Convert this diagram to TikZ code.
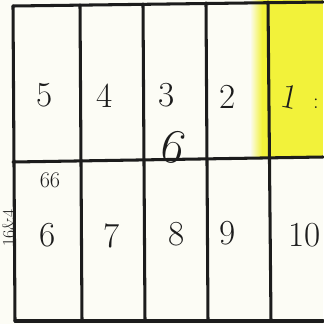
\documentclass[tikz,border=0pt]{standalone}
\usepackage{fontspec}
\usepackage{tikz}
\usetikzlibrary{positioning,calc}
\definecolor{marker}{HTML}{F2F23A}
\definecolor{paper}{HTML}{FCFCF5}
\definecolor{ink}{HTML}{1C1C1C}
\tikzset{
  wall/.style={ink, line width=2.6pt, line cap=round},
  digit/.style={ink, font=\fontsize{30}{30}\selectfont, inner sep=0pt},
  note/.style={ink, font=\fontsize{19}{19}\selectfont, inner sep=0pt}
}

\begin{document}
\begin{tikzpicture}[x=0.03cm, y=-0.03cm]

% ---------- page and highlight
\fill[paper] (0,0) rectangle (323,324);
\useasboundingbox (0,0) rectangle (323,324);
\fill[marker] (262,0) rectangle (323,158);
\shade[left color=paper, right color=marker] (250,0) rectangle (262,158);

% ---------- grid lines
\draw[wall] (13,6) -- (323,2);
\draw[wall] (13,162) -- (323,157);
\draw[wall] (15,321) -- (323,321);
\draw[wall] (13,6) -- (15,321);
\foreach \xa/\xb/\ya in {80/82/5, 143/145/4, 206/208/3, 268/271/2}{
  \draw[wall] (\xa,\ya) -- (\xb,321); }

% ---------- upper row
\foreach \n/\x/\y in {5/45/95, 4/105/96, 3/167/95, 2/228/97}{
  \node[digit] (u\n) at (\x,\y) {\n}; }
\node[digit, rotate=-12] (u1) at (290,97) {1};
\node[note] (dots) at (316,104) {:};
\node[digit, font=\fontsize{42}{42}\selectfont, rotate=-15] (big6) at (174,147) {6};

% ---------- lower row
\node[note] (n66) at (50,180) {66};
\foreach \n/\x/\y in {6/48/235, 7/112/236, 8/177/234, 9/228/233, 10/305/235}{
  \node[digit] (l\n) at (\x,\y) {\n}; }
\node[note, font=\fontsize{15}{15}\selectfont, rotate=90] (size) at (8.5,228) {16\&4};

\end{tikzpicture}
\end{document}
